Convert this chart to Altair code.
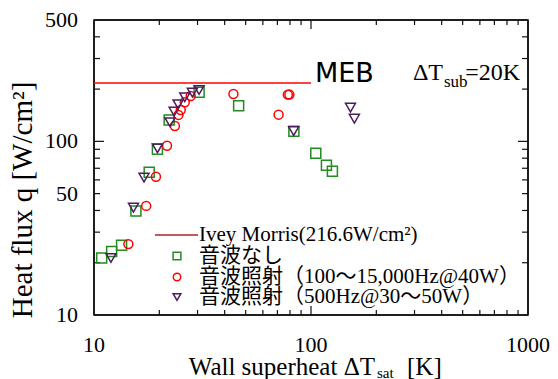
import altair as alt
import pandas as pd

# ---------------- data ----------------
none_dt = [10.85, 12.06, 13.4, 15.6, 17.96, 19.6, 22.2, 30.5, 46.4, 83.4, 105.2, 117.8, 125.5]
none_q = [21.3, 23.2, 25.2, 39.7, 66.4, 90.1, 132.8, 191.8, 160.6, 114.3, 85.4, 72.8, 67.3]

wide_dt = [14.4, 17.4, 19.3, 21.7, 23.6, 24.5, 25.1, 26.2, 27.9, 43.9, 70.9, 78.2, 79.5]
wide_q = [25.6, 42.5, 62.6, 94.4, 122.7, 142.0, 151.7, 168.0, 182.6, 187.5, 142.5, 185.8, 186.0]

f500_dt = [11.97, 15.2, 17.0, 19.6, 22.4, 23.4, 24.4, 26.2, 28.4, 30.5, 83.2, 152.0, 158.5]
f500_q = [21.3, 41.5, 61.8, 91.2, 128.8, 148.3, 163.6, 179.5, 190.8, 197.7, 114.6, 156.4, 135.1]

meb_dt = [10, 100]
meb_q = [216.6]

x_labels = [10, 100, 1000]
y_labels = [10, 50, 100, 500]
x_major = [100]
x_minor = [20, 30, 40, 50, 60, 70, 80, 90, 200, 300, 400, 500, 600, 700, 800, 900]
y_major = [100]
y_minor = [20, 30, 40, 50, 60, 70, 80, 90, 200, 300, 400]

legend_labels = ["Ivey Morris(216.6W/cm²)", "音波なし",
                 "音波照射（100～15,000Hz@40W）", "音波照射（500Hz@30～50W）"]

# ---------------- styles ----------------
W, H = 434, 295
SERIF = "Liberation Serif"
MIXED = "Liberation Serif, Noto Sans CJK JP"
GREEN = "#228b22"
RED = "#ff0000"
PURPLE = "#4b1c5e"
INK = "#111111"

xs = alt.Scale(type="log", domain=[10, 1000], nice=False)
ys = alt.Scale(type="log", domain=[10, 500], nice=False)

df_none = pd.DataFrame({"dt": none_dt, "q": none_q})
df_wide = pd.DataFrame({"dt": wide_dt, "q": wide_q})
df_500 = pd.DataFrame({"dt": f500_dt, "q": f500_q})
df_meb = pd.DataFrame({"x1": [meb_dt[0]], "x2": [meb_dt[1]], "q": meb_q})

pts_none = alt.Chart(df_none).mark_point(shape="square", size=100, filled=False, opacity=1,
                                         color=GREEN, strokeWidth=1.5).encode(
    x=alt.X("dt:Q", scale=xs, axis=None), y=alt.Y("q:Q", scale=ys, axis=None))
pts_wide = alt.Chart(df_wide).mark_point(shape="circle", size=80, filled=False, opacity=1,
                                         color=RED, strokeWidth=1.5).encode(
    x=alt.X("dt:Q", scale=xs, axis=None), y=alt.Y("q:Q", scale=ys, axis=None))
pts_500 = alt.Chart(df_500).mark_point(shape="triangle-down", size=100, filled=False, opacity=1,
                                       color=PURPLE, strokeWidth=1.5).encode(
    x=alt.X("dt:Q", scale=xs, axis=None), y=alt.Y("q:Q", scale=ys, axis=None))

meb = alt.Chart(df_meb).mark_rule(color=RED, strokeWidth=1.5).encode(
    x=alt.X("x1:Q", scale=xs, axis=None), x2="x2:Q",
    y=alt.Y("q:Q", scale=ys, axis=None))

# tick labels drawn through the scales
x_lab = alt.Chart(pd.DataFrame({"xl": x_labels})).mark_text(
    font=SERIF, fontSize=22, color="black", align="center", baseline="top").encode(
    x=alt.X("xl:Q", scale=xs, axis=None), y=alt.value(H + 20),
    text=alt.Text("xl:Q", format="d"))
y_lab = alt.Chart(pd.DataFrame({"yl": y_labels})).mark_text(
    font=SERIF, fontSize=22, color="black", align="right", baseline="middle").encode(
    y=alt.Y("yl:Q", scale=ys, axis=None), x=alt.value(-16),
    text=alt.Text("yl:Q", format="d"))


def yticks(vals, length):
    d = pd.DataFrame({"v": vals})
    left = alt.Chart(d).mark_rule(color=INK, strokeWidth=1.2).encode(
        y=alt.Y("v:Q", scale=ys, axis=None), x=alt.value(0), x2=alt.value(length))
    right = alt.Chart(d).mark_rule(color=INK, strokeWidth=1.2).encode(
        y=alt.Y("v:Q", scale=ys, axis=None), x=alt.value(W - length), x2=alt.value(W))
    return [left, right]


def xticks(vals, length):
    d = pd.DataFrame({"v": vals})
    bottom = alt.Chart(d).mark_rule(color=INK, strokeWidth=1.2).encode(
        x=alt.X("v:Q", scale=xs, axis=None), y=alt.value(H - length), y2=alt.value(H))
    top = alt.Chart(d).mark_rule(color=INK, strokeWidth=1.2).encode(
        x=alt.X("v:Q", scale=xs, axis=None), y=alt.value(0), y2=alt.value(length))
    return [bottom, top]


ticks = yticks(y_minor, 6) + yticks(y_major, 10) + xticks(x_minor, 5) + xticks(x_major, 9)

one = pd.DataFrame({"a": [0]})
frame = [
    alt.Chart(one).mark_rule(color=INK, strokeWidth=1.5).encode(
        x=alt.value(0), x2=alt.value(W), y=alt.value(0)),
    alt.Chart(one).mark_rule(color=INK, strokeWidth=1.5).encode(
        x=alt.value(0), x2=alt.value(W), y=alt.value(H)),
    alt.Chart(one).mark_rule(color=INK, strokeWidth=1.5).encode(
        y=alt.value(0), y2=alt.value(H), x=alt.value(0)),
    alt.Chart(one).mark_rule(color=INK, strokeWidth=1.5).encode(
        y=alt.value(0), y2=alt.value(H), x=alt.value(W)),
]


def text(s, x, y, size, font=SERIF, align="left", baseline="alphabetic", angle=0, color="black"):
    kw = dict(text=s, font=font, fontSize=size, align=align, baseline=baseline, color=color)
    if angle:
        kw["angle"] = angle
    return alt.Chart(pd.DataFrame({"a": [0]})).mark_text(**kw).encode(
        x=alt.value(x), y=alt.value(y))


annots = [
    # axis titles
    text("Heat flux q [W/cm²]", -62, 180, 29, align="center", angle=270),
    text("Wall superheat ΔT", 281, 355, 25, align="right"),
    text("sat", 283, 358, 15),
    text("[K]", 313, 355, 25),
    # MEB and subcooling
    text("MEB", 221, 62, 27, font="DejaVu Sans"),
    text("ΔT", 349, 60, 24, align="right"),
    text("sub", 350, 67, 17),
    text("=20K", 426, 60, 24, align="right"),
    # legend texts
    text(legend_labels[0], 105, 215, 21, font=MIXED, baseline="middle"),
    text(legend_labels[1], 105, 236, 21, font=MIXED, baseline="middle"),
    text(legend_labels[2], 105, 257, 21, font=MIXED, baseline="middle"),
    text(legend_labels[3], 105, 277, 21, font=MIXED, baseline="middle"),
]

legend_marks = [
    alt.Chart(one).mark_rule(color="#b22222", strokeWidth=1.5).encode(
        x=alt.value(61), x2=alt.value(104), y=alt.value(215)),
    alt.Chart(one).mark_point(shape="square", size=60, filled=False, color=GREEN, opacity=1,
                              strokeWidth=1.5).encode(x=alt.value(83), y=alt.value(236)),
    alt.Chart(one).mark_point(shape="circle", size=55, filled=False, color=RED, opacity=1,
                              strokeWidth=1.5).encode(x=alt.value(83), y=alt.value(257)),
    alt.Chart(one).mark_point(shape="triangle-down", size=60, filled=False, color=PURPLE, opacity=1,
                              strokeWidth=1.5).encode(x=alt.value(83), y=alt.value(277)),
]

chart = alt.layer(*frame, *ticks, pts_none, meb, pts_wide, pts_500, *legend_marks, *annots,
                  x_lab, y_lab).properties(
    width=W, height=H,
    background="white",
    autosize=alt.AutoSizeParams(type="none"),
    padding={"left": 94, "top": 20, "right": 30, "bottom": 64},
).configure_view(stroke=INK, strokeWidth=1.5)

chart.save("out.html", embed_options={"renderer": "svg", "actions": False})
